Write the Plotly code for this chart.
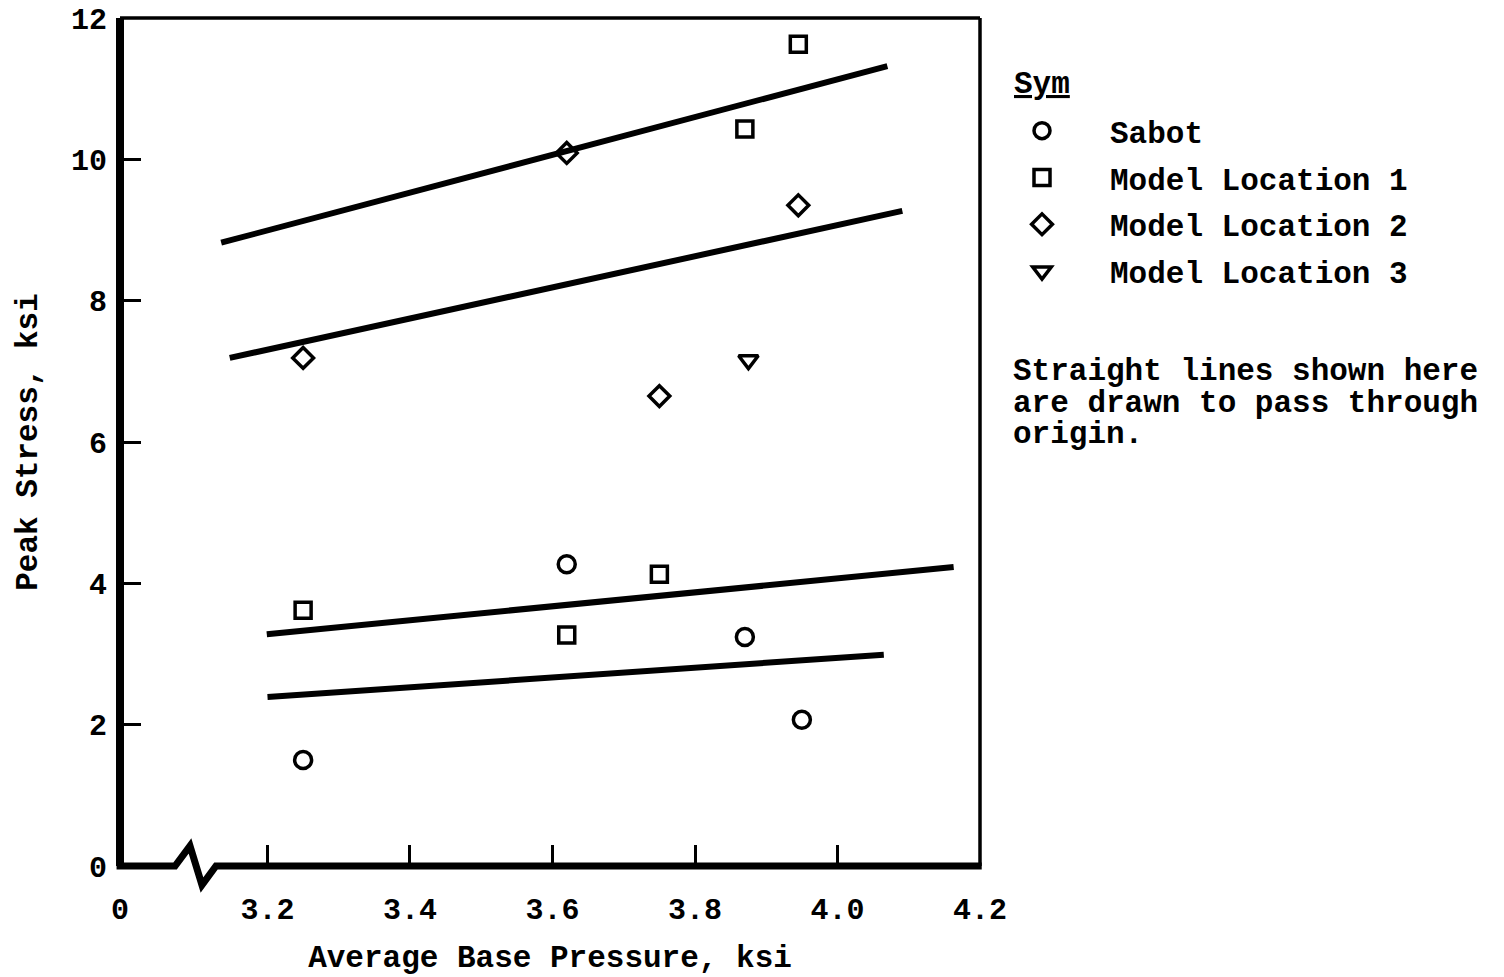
import plotly.graph_objects as go

# ---- data ----
x_tick_vals = [2.993, 3.2, 3.4, 3.6, 3.8, 4.0, 4.2]
x_tick_text = ["0", "3.2", "3.4", "3.6", "3.8", "4.0", "4.2"]
y_tick_vals = [0, 2, 4, 6, 8, 10, 12]

sabot_x = [3.25, 3.62, 3.87, 3.95]
sabot_y = [1.50, 4.27, 3.24, 2.07]

loc1_x = [3.25, 3.62, 3.75, 3.87, 3.945]
loc1_y = [3.62, 3.27, 4.13, 10.43, 11.63]

loc2_x = [3.25, 3.62, 3.75, 3.945]
loc2_y = [7.19, 10.09, 6.65, 9.35]

loc3_x = [3.875]
loc3_y = [7.16]

# straight lines through origin (end points)
line_a_x = [3.135, 4.070]
line_a_y = [8.82, 11.32]
line_b_x = [3.147, 4.091]
line_b_y = [7.19, 9.27]
line_c_x = [3.199, 4.163]
line_c_y = [3.28, 4.23]
line_d_x = [3.200, 4.065]
line_d_y = [2.39, 2.99]

FONT = "Liberation Mono"
BLACK = "#000000"

def f(size=31):
    return dict(family=FONT, size=size, color=BLACK, weight="bold")

fig = go.Figure()

for lx, ly in [(line_a_x, line_a_y), (line_b_x, line_b_y),
               (line_c_x, line_c_y), (line_d_x, line_d_y)]:
    fig.add_trace(go.Scatter(x=lx, y=ly, mode="lines",
                             line=dict(color=BLACK, width=6),
                             showlegend=False, hoverinfo="skip"))

series = [
    ("Sabot", sabot_x, sabot_y, "circle-open", 17),
    ("Model Location 1", loc1_x, loc1_y, "square-open", 16),
    ("Model Location 2", loc2_x, loc2_y, "diamond-open", 16),
    ("Model Location 3", loc3_x, loc3_y, "triangle-down-open", 17),
]
for name, sx, sy, sym, sz in series:
    fig.add_trace(go.Scatter(
        x=sx, y=sy, mode="markers", name=name, legendgroup=name,
        marker=dict(symbol=sym, size=sz, color=BLACK,
                    line=dict(color=BLACK, width=3.5)),
    ))

# frame: thick left/bottom, thin top/right, with axis break on bottom
shapes = [
    dict(type="line", xref="paper", yref="paper", x0=0, y0=0, x1=0, y1=1,
         line=dict(color=BLACK, width=8)),
    dict(type="line", xref="paper", yref="paper", x0=0, y0=1, x1=1, y1=1,
         line=dict(color=BLACK, width=3.5)),
    dict(type="line", xref="paper", yref="paper", x0=1, y0=0, x1=1, y1=1,
         line=dict(color=BLACK, width=3.5)),
    dict(type="path", xref="paper", yref="paper",
         path="M -0.004,0 L 0.064,0 L 0.0814,0.0236 L 0.0953,-0.0224 "
              "L 0.1116,0 L 1.002,0",
         line=dict(color=BLACK, width=7)),
]

annotations = [dict(
    text='<span style="text-decoration:underline">Sym</span>',
    xref="paper", yref="paper", x=(1012 - 120) / 860, y=(866 - 84) / 848,
    xanchor="left", yanchor="middle", showarrow=False, font=f())]

note_lines = ["Straight lines shown here", "are drawn to pass through", "origin."]
for i, t in enumerate(note_lines):
    annotations.append(dict(
        text=t, xref="paper", yref="paper", x=(1011 - 120) / 860,
        y=(866 - 371 - 32 * i) / 848,
        xanchor="left", yanchor="middle", showarrow=False, align="left",
        font=f()))

fig.update_layout(
    width=1504, height=977,
    margin=dict(l=120, r=524, t=18, b=111, autoexpand=False),
    paper_bgcolor="white", plot_bgcolor="white",
    font=f(),
    shapes=shapes,
    annotations=annotations,
    showlegend=True,
    legend=dict(
        x=(974 - 120) / 860, y=(866 - 104) / 848, xanchor="left", yanchor="top",
        font=f(),
        itemwidth=126, tracegroupgap=3.5, bgcolor="rgba(0,0,0,0)",
        borderwidth=0,
    ),
    xaxis=dict(
        range=[2.993, 4.2], tickmode="array", tickvals=x_tick_vals,
        ticktext=x_tick_text, ticks="inside", ticklen=21, tickwidth=3,
        tickcolor=BLACK, showline=False, showgrid=False, zeroline=False,
        ticklabelstandoff=22, automargin=False,
        tickfont=f(30),
        title=dict(text="Average Base Pressure, ksi", standoff=18, font=f()),
    ),
    yaxis=dict(
        range=[0, 12], tickmode="array", tickvals=y_tick_vals,
        ticks="inside", ticklen=21, tickwidth=3, tickcolor=BLACK,
        showline=False, showgrid=False, zeroline=False,
        ticklabelstandoff=12, automargin=False,
        tickfont=f(30),
        title=dict(text="Peak Stress, ksi", standoff=24, font=f()),
    ),
)

fig.write_html(
    "out.html",
    config={"displayModeBar": False},
    post_script="document.body.style.margin='0';document.body.style.overflow='hidden';",
)
